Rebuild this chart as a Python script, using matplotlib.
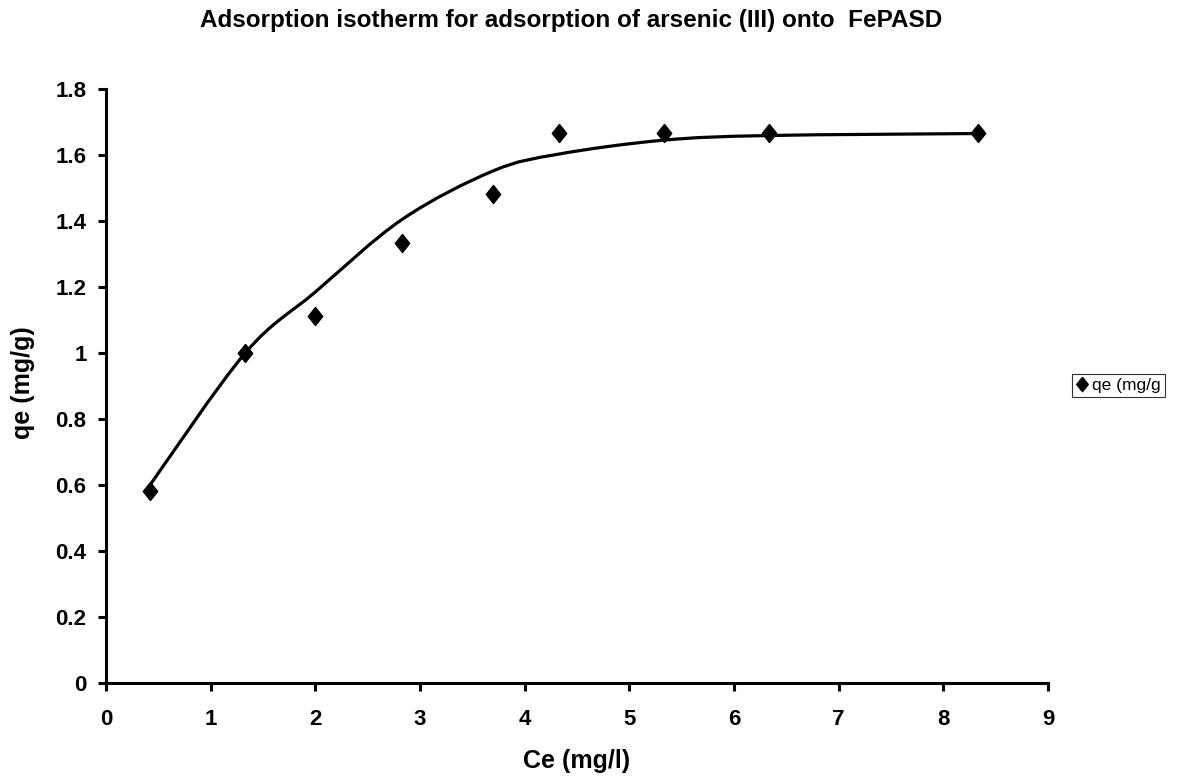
import matplotlib.pyplot as plt
import numpy as np
from matplotlib.path import Path
from matplotlib.patches import PathPatch

plt.rcParams['font.family'] = ['Liberation Sans', 'DejaVu Sans']

# measured data
ce = [0.42, 1.33, 2.0, 2.83, 3.7, 4.33, 5.33, 6.33, 8.33]
qe = [0.583, 1.0, 1.111, 1.333, 1.481, 1.667, 1.667, 1.667, 1.667]
# model (fitted) curve values at the same Ce
qe_fit = [0.60, 1.0, 1.185, 1.405, 1.552, 1.603, 1.645, 1.659, 1.665]

x_ticks = [0, 1, 2, 3, 4, 5, 6, 7, 8, 9]
y_ticks = [0, 0.2, 0.4, 0.6, 0.8, 1, 1.2, 1.4, 1.6, 1.8]
y_labels = ['0', '0.2', '0.4', '0.6', '0.8', '1', '1.2', '1.4', '1.6', '1.8']


def smooth_path(xs, ys):
    # Excel-like smoothed line: Catmull-Rom segments as cubic Bezier curves
    p = np.column_stack([xs, ys])
    n = len(p)
    verts = [p[0]]
    codes = [Path.MOVETO]
    for i in range(n - 1):
        p0 = p[i - 1] if i > 0 else p[i]
        p3 = p[i + 2] if i + 2 < n else p[i + 1]
        c1 = p[i] + (p[i + 1] - p0) / 6
        c2 = p[i + 1] - (p3 - p[i]) / 6
        verts += [c1, c2, p[i + 1]]
        codes += [Path.CURVE4] * 3
    return Path(verts, codes)


fig = plt.figure(figsize=(11.81, 7.80), dpi=100)
ax = fig.add_axes([0.0898, 0.1244, 0.7976, 0.7615])

ax.add_patch(PathPatch(smooth_path(ce, qe_fit), fill=False, lw=2.3,
                       edgecolor='black', capstyle='butt'))

diamond = [(0, 1), (0.8, 0), (0, -1), (-0.8, 0), (0, 1)]
ax.plot(ce, qe, linestyle='none', marker=diamond, markersize=13,
        color='black', label='qe (mg/g', clip_on=False)

ax.set_xlim(0, 9)
ax.set_ylim(0, 1.8)
ax.set_xticks(x_ticks)
ax.set_yticks(y_ticks)
ax.set_yticklabels(y_labels)

for s in ['top', 'right']:
    ax.spines[s].set_visible(False)
for s in ['left', 'bottom']:
    ax.spines[s].set_linewidth(2.2)
ax.tick_params(axis='both', direction='out', length=6, width=2.2,
               labelsize=16)
ax.tick_params(axis='x', pad=13)
ax.tick_params(axis='y', pad=8)
for lab in ax.get_xticklabels() + ax.get_yticklabels():
    lab.set_fontweight('bold')

fig.text(0.4835, 1 - 27 / 780, 'Adsorption isotherm for adsorption of arsenic (III) onto  FePASD',
         ha='center', va='baseline', fontsize=17.5, fontweight='bold')
fig.text(0.4886, 1 - 761 / 780, 'Ce (mg/l)', ha='center', va='center',
         fontsize=18, fontweight='bold')
fig.text(0.0195, 1 - 383 / 780, 'qe (mg/g)', ha='center', va='center',
         rotation=90, fontsize=18, fontweight='bold')

leg = fig.legend(loc='center left', bbox_to_anchor=(0.9077, 1 - 385.5 / 780),
                 fontsize=12.5, frameon=True, fancybox=False,
                 handlelength=0.6, handletextpad=0.3, borderpad=0.25,
                 borderaxespad=0, markerscale=0.8)
leg.get_frame().set_edgecolor('black')
leg.get_frame().set_linewidth(0.8)

fig.savefig('out.png', dpi=100)
